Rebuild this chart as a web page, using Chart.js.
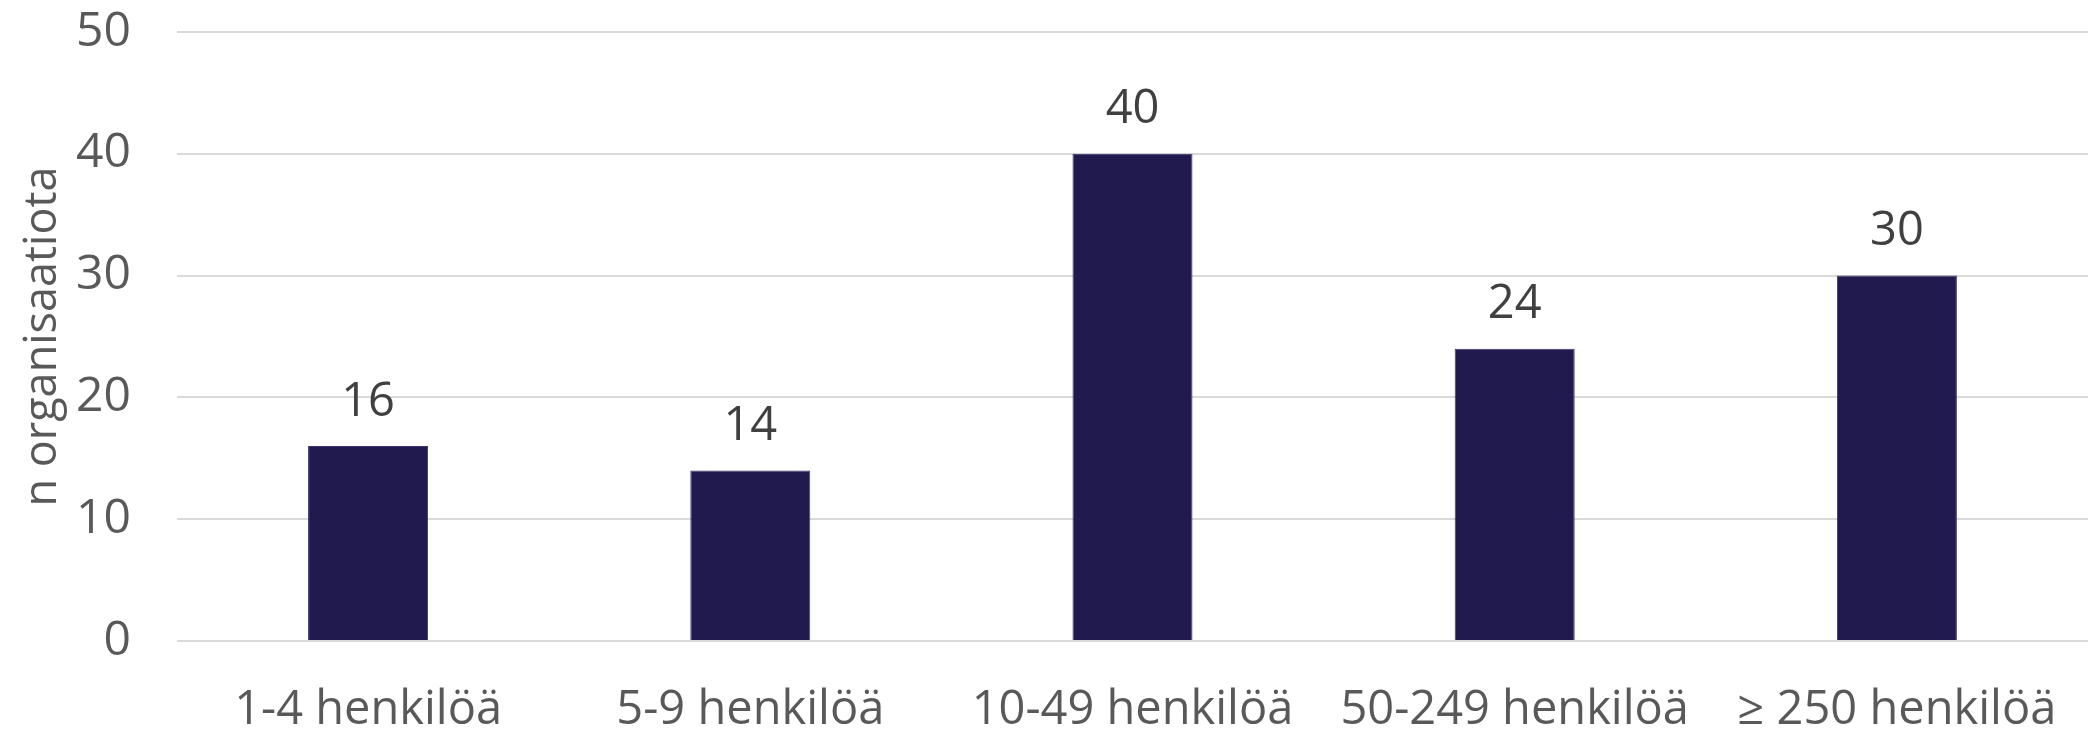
<!DOCTYPE html>
<html>
<head>
<meta charset="utf-8">
<script src="https://cdn.jsdelivr.net/npm/chart.js@4/dist/chart.umd.min.js"></script>
<style>
  html, body { margin: 0; padding: 0; background: #fff; }
  #wrap { width: 2088px; height: 731px; }
</style>
</head>
<body>
<div id="wrap"><canvas id="myChart" width="2088" height="731"></canvas></div>
<script>
var categories = ['1-4 henkilöä', '5-9 henkilöä', '10-49 henkilöä', '50-249 henkilöä', '≥ 250 henkilöä'];
var counts = [16, 14, 40, 24, 30];
var yTicks = [0, 10, 20, 30, 40, 50];

var fontFamily = "'Open Sans', 'Noto Sans', sans-serif";

// writes each bar's value just above it
var valueLabels = {
    id: 'valueLabels',
    afterDatasetsDraw: function (chart) {
        var ctx = chart.ctx;
        var meta = chart.getDatasetMeta(0);
        ctx.save();
        ctx.font = '47px ' + fontFamily;
        ctx.fillStyle = '#404040';
        ctx.textAlign = 'center';
        ctx.textBaseline = 'middle';
        meta.data.forEach(function (bar, i) {
            ctx.fillText(String(counts[i]), bar.x, bar.y - 44);
        });
        ctx.restore();
    }
};

var ctx = document.getElementById('myChart').getContext('2d');
var myChart = new Chart(ctx, {
    type: 'bar',
    data: {
        labels: categories,
        datasets: [{
            data: counts,
            backgroundColor: '#211a4f',
            borderColor: '#3c3670',
            borderWidth: 1,
            categoryPercentage: 1,
            barPercentage: 0.314
        }]
    },
    options: {
        responsive: false,
        animation: false,
        layout: { padding: { top: 0, right: 0, bottom: 0, left: 16 } },
        plugins: {
            legend: { display: false },
            tooltip: { enabled: false }
        },
        scales: {
            x: {
                afterFit: function (axis) {
                    axis.height = 90;
                    axis.paddingLeft = 0;
                    axis.paddingRight = 0;
                },
                grid: { display: false },
                border: { display: false },
                ticks: {
                    color: '#595959',
                    font: { family: fontFamily, size: 47, lineHeight: 1 },
                    maxRotation: 0,
                    autoSkip: false,
                    padding: 38
                }
            },
            y: {
                min: 0,
                max: 50,
                afterFit: function (axis) {
                    axis.width = 161;
                    axis.paddingTop = 32;
                    axis.paddingBottom = 29;
                },
                afterBuildTicks: function (axis) {
                    axis.ticks = yTicks.map(function (v) { return { value: v }; });
                },
                grid: { color: '#d9d9d9', lineWidth: 2, drawTicks: false },
                border: { display: false },
                ticks: {
                    color: '#595959',
                    font: { family: fontFamily, size: 48 },
                    padding: 46
                },
                title: {
                    display: true,
                    text: 'n organisaatiota',
                    color: '#595959',
                    font: { family: fontFamily, size: 45 },
                    padding: 0
                }
            }
        }
    },
    plugins: [valueLabels]
});
</script>
</body>
</html>
